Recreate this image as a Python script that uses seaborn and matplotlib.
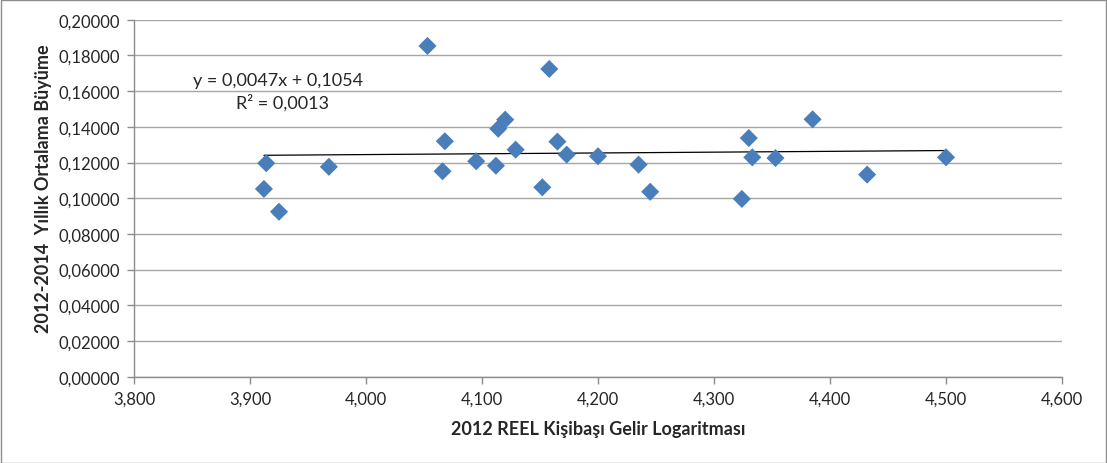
import numpy as np
import pandas as pd
import matplotlib
matplotlib.use("Agg")
import matplotlib.pyplot as plt
import seaborn as sns
from matplotlib.ticker import FuncFormatter, MultipleLocator
from matplotlib.patches import Rectangle

# ---- data ----
log_income = [3.914, 3.912, 3.925, 3.968, 4.053, 4.068, 4.066, 4.095, 4.112,
              4.114, 4.120, 4.129, 4.158, 4.152, 4.165, 4.173, 4.200, 4.235,
              4.245, 4.324, 4.330, 4.333, 4.353, 4.385, 4.432, 4.500]
growth = [0.1196, 0.1052, 0.0924, 0.1176, 0.1853, 0.1319, 0.1151, 0.1207, 0.1182,
          0.1389, 0.1440, 0.1272, 0.1724, 0.1061, 0.1317, 0.1244, 0.1235, 0.1188,
          0.1036, 0.0996, 0.1337, 0.1229, 0.1225, 0.1442, 0.1132, 0.1229]
eq_label = "y = 0,0047x + 0,1054"
r2_label = "R² = 0,0013"
x_label = "2012 REEL Kişibaşı Gelir Logaritması"
y_label = "2012-2014  Yıllık Ortalama Büyüme"

df = pd.DataFrame({"x": log_income, "y": growth})

sns.set_style("white")
plt.rcParams["font.family"] = ["Lato", "DejaVu Sans"]

W, H = 1107, 464
fig = plt.figure(figsize=(W / 100, H / 100), dpi=100)
ax = fig.add_axes([134 / W, 1 - 377.7 / H, (1062 - 134) / W, (377.7 - 20.7) / H])

sns.scatterplot(data=df, x="x", y="y", marker="D", s=85, color="#4A7EBB",
                edgecolor="none", ax=ax, zorder=3)

# linear trend line across the data range (Excel-style)
xs = np.array([min(log_income), max(log_income)])
fit = np.polyfit(log_income, growth, 1)
ax.plot(xs, np.polyval(fit, xs), color="black", lw=0.9, zorder=2)

ax.set_xlim(3.8, 4.6)
ax.set_ylim(0, 0.2)
ax.xaxis.set_major_locator(MultipleLocator(0.1))
ax.yaxis.set_major_locator(MultipleLocator(0.02))
ax.xaxis.set_major_formatter(FuncFormatter(lambda v, p: f"{v:.3f}".replace(".", ",")))
ax.yaxis.set_major_formatter(FuncFormatter(lambda v, p: f"{v:.5f}".replace(".", ",")))

ax.grid(axis="y", color="#A6A6A6", lw=1)
ax.grid(axis="x", visible=False)
ax.set_axisbelow(True)
for s in ["top", "right"]:
    ax.spines[s].set_visible(False)
for s in ["left", "bottom"]:
    ax.spines[s].set_color("#8C8C8C")
    ax.spines[s].set_linewidth(1)
ax.tick_params(axis="both", which="major", direction="out", length=5, width=1,
               color="#8C8C8C", labelsize=12, labelcolor="#262626", pad=5)
ax.tick_params(left=True, bottom=True)

ax.set_xlabel(x_label, fontsize=13, fontweight="bold", color="#262626", labelpad=10)
ax.set_ylabel(y_label, fontsize=13, fontweight="bold", color="#262626")
ax.yaxis.set_label_coords(-0.088, 0.53)

fig.text(278 / W, 1 - 81 / H, eq_label, fontsize=13, ha="center", va="center", color="#262626")
fig.text(282 / W, 1 - 103 / H, r2_label, fontsize=13, ha="center", va="center", color="#262626")

fig.patches.append(Rectangle((0.5 / W, 0.5 / H), 1 - 1.5 / W, 1 - 1.5 / H,
                             transform=fig.transFigure, fill=False,
                             edgecolor="#8C8C8C", lw=1))

fig.savefig("out.png", dpi=100)
